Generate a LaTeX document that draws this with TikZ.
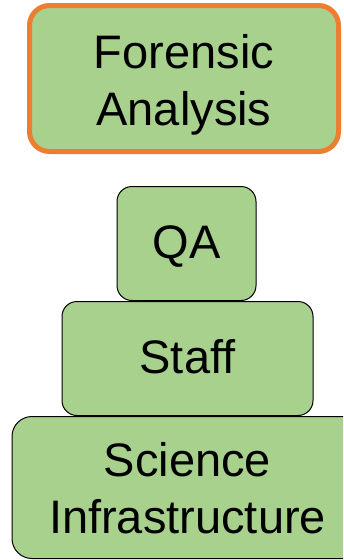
\documentclass[tikz,border=0pt]{standalone}
\usepackage{fontspec}
\setmainfont{Liberation Sans}
\usetikzlibrary{positioning}
\definecolor{boxgreen}{HTML}{A9D18E}
\definecolor{boxorange}{HTML}{ED7D31}

\begin{document}
\begin{tikzpicture}[
    x=1pt, y=1pt,
    node distance=0pt,
    every node/.style={draw=black, line width=1pt, fill=boxgreen, rounded corners=15pt, inner sep=0pt, align=center, text depth=0pt, text height=30pt, font=\fontsize{47}{57}\selectfont},
    focus/.style={draw=boxorange, line width=5pt, rounded corners=20pt, text height=93pt},
    base/.style={rounded corners=20pt, text height=92pt}
]
\useasboundingbox (0,0) rectangle (343,-560);
\clip (0,0) rectangle (343,-560);
\node[focus, minimum width=309pt, minimum height=146pt] (forensic) at (184,-78.5) {Forensic\\Analysis};
\node[minimum width=139pt, minimum height=114pt, below=32pt of forensic, xshift=2.5pt] (qa) {QA};
\node[minimum width=251pt, minimum height=114pt, below=of qa, xshift=1pt] (staff) {Staff};
\node[base, minimum width=351pt, minimum height=142pt, below=of staff] (science) {Science\\Infrastructure};

\end{tikzpicture}
\end{document}
